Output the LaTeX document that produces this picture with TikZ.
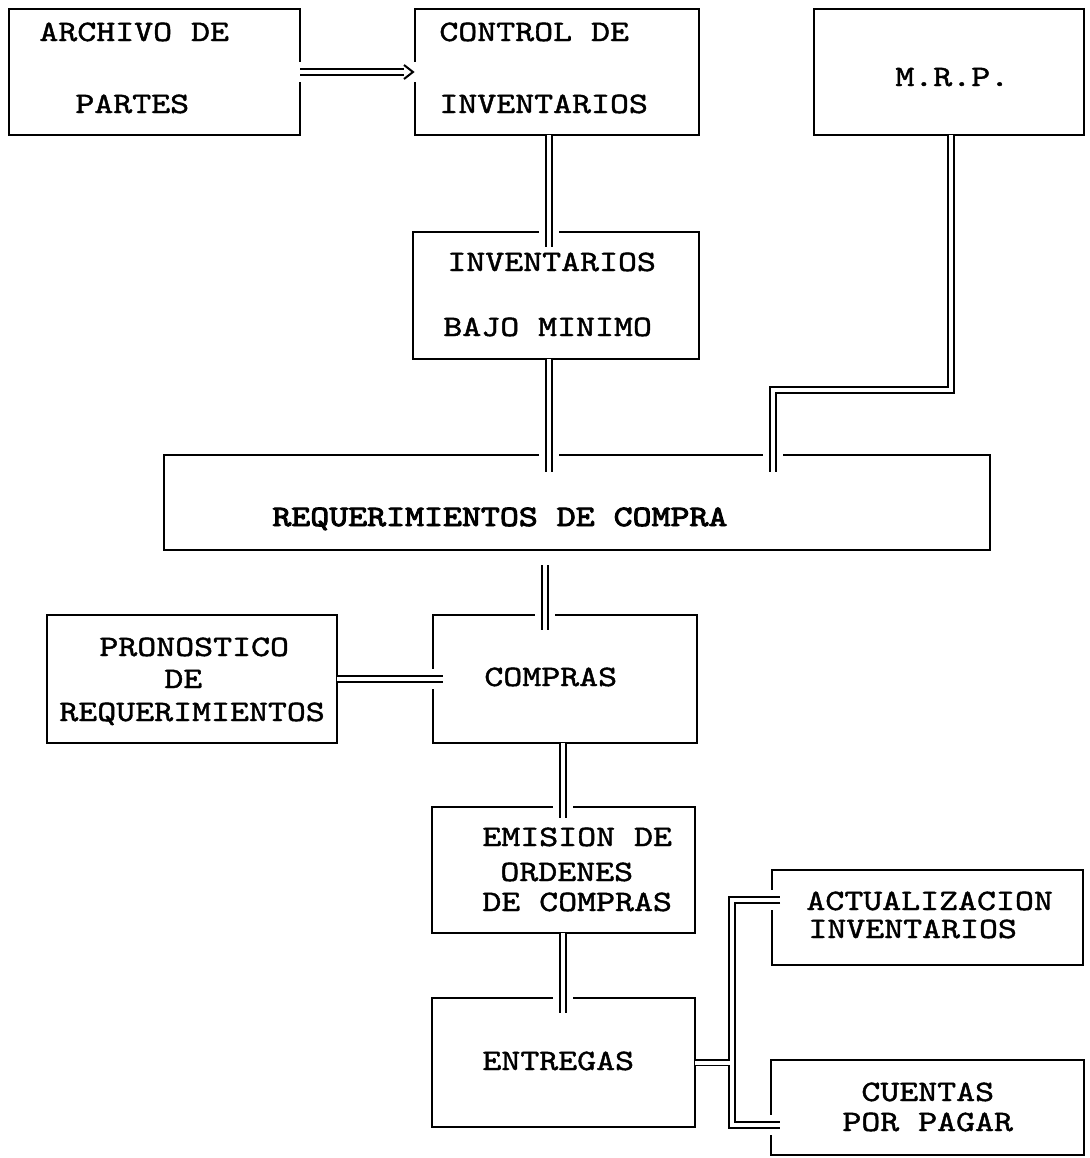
\documentclass[tikz,border=0pt]{standalone}
\usepackage{fontspec}
\newfontfamily\twm{lmmono10-regular}[Extension=.otf, FakeBold=1.5, FakeStretch=1.22]
\newfontfamily\twb{lmmono10-regular}[Extension=.otf, FakeBold=3.2, FakeStretch=1.22]
\usetikzlibrary{calc}
\begin{document}
\begin{tikzpicture}[x=0.5pt,y=-0.5pt,
  box/.style={draw, line width=1.1pt, rectangle, inner sep=0pt, outer sep=0pt, anchor=north west},
  txt/.style={anchor=base west, inner sep=0pt, font=\twm\fontsize{14.8pt}{17pt}\selectfont},
  txtb/.style={txt, font=\twb\fontsize{14.8pt}{17pt}\selectfont},
  dl/.style={double, line width=0.9pt, double distance=2pt, line join=miter,
             preaction={draw=white, line width=10pt, shorten <=1pt}},
  dlplain/.style={double, line width=0.9pt, double distance=2pt},
  gapw/.style={draw=white, line width=10pt},
  tip/.style={line width=1pt}]
\useasboundingbox (0,0) rectangle (1089,1158);

% boxes
\node[box, minimum width=145.5pt, minimum height=63pt] (archivo) at (9,9) {};
\node[box, minimum width=142pt, minimum height=63pt] (control) at (415,9) {};
\node[box, minimum width=135pt, minimum height=63pt] (mrp) at (814,9) {};
\node[box, minimum width=143pt, minimum height=63.5pt] (inv) at (413,232) {};
\node[box, minimum width=413pt, minimum height=47.5pt] (req) at (164,455) {};
\node[box, minimum width=145pt, minimum height=64pt] (pron) at (47,615) {};
\node[box, minimum width=132pt, minimum height=64pt] (compras) at (433,615) {};
\node[box, minimum width=131.5pt, minimum height=63pt] (emision) at (432,807) {};
\node[box, minimum width=131.5pt, minimum height=64.5pt] (entregas) at (432,998) {};
\node[box, minimum width=155.5pt, minimum height=47.5pt] (act) at (772,870) {};
\node[box, minimum width=156.5pt, minimum height=47.5pt] (cuentas) at (771,1060) {};

% texts
\node[txt] (tA1) at (39,41) {ARCHIVO DE};
\node[txt] (tA2) at (75,113) {PARTES};
\node[txt] (tC1) at (439,41) {CONTROL DE};
\node[txt] (tC2) at (439,113) {INVENTARIOS};
\node[txt] (tM) at (895,86) {M.R.P.};
\node[txt] (tI1) at (447,271) {INVENTARIOS};
\node[txt] (tI2) at (443,336) {BAJO MINIMO};
\node[txtb] (tR) at (272,526) {REQUERIMIENTOS DE COMPRA};
\node[txt] (tP1) at (99,656) {PRONOSTICO};
\node[txt] (tP2) at (164,688) {DE};
\node[txt] (tP3) at (59,721) {REQUERIMIENTOS};
\node[txt] (tCo) at (484,686) {COMPRAS};
\node[txt] (tE1) at (482,846) {EMISION DE};
\node[txt] (tE2) at (500,881) {ORDENES};
\node[txt] (tE3) at (482,911) {DE COMPRAS};
\node[txt] (tEn) at (482,1070) {ENTREGAS};
\node[txt] (tAc1) at (806,910) {ACTUALIZACION};
\node[txt] (tAc2) at (808,938) {INVENTARIOS};
\node[txt] (tCu1) at (861,1101) {CUENTAS};
\node[txt] (tCu2) at (842,1131) {POR PAGAR};

% helper coordinates
\coordinate (c1) at (549,0);
\coordinate (c2) at (951,0);
\coordinate (c3) at (773,0);
\coordinate (c4) at (545,0);
\coordinate (c5) at (563,0);
\coordinate (c6) at (732,0);
\coordinate (bend) at (0,390);
\coordinate (ja) at (0,900);
\coordinate (jb) at (0,1125);
\coordinate (tipA) at ($(control.west)+(-11,0)$);

% connectors
\path[gapw] ($(archivo.east)+(-3,0)$) -- ($(control.west)+(3,0)$);
\draw[dlplain] (archivo.east) -- (tipA);
\draw[tip] ($(tipA)+(0,-7)$) -- ($(tipA)+(9,0)$) -- ($(tipA)+(0,7)$);

\draw[dl] (control.south -| c1) -- ($(inv.north -| c1)+(0,15)$);
\draw[dl] (inv.south -| c1) -- ($(req.north -| c1)+(0,17)$);
\draw[dl] (mrp.south -| c2) -- (c2 |- bend) -- (c3 |- bend) -- ($(req.north -| c3)+(0,17)$);
\draw[dl] ($(req.south -| c4)+(0,15)$) -- ($(compras.north -| c4)+(0,15)$);
\draw[dl] (pron.east) -- ($(compras.west)+(10,0)$);
\draw[dl] (compras.south -| c5) -- ($(emision.north -| c5)+(0,11)$);
\draw[dl] (emision.south -| c5) -- ($(entregas.north -| c5)+(0,15)$);
\draw[dl] ($(act.west |- ja)+(8,0)$) -- (c6 |- ja) -- (c6 |- jb) -- ($(cuentas.west |- jb)+(9,0)$);
\draw[dlplain] (entregas.east) -- ($(c6 |- entregas.east)+(-2,0)$);
\end{tikzpicture}
\end{document}
